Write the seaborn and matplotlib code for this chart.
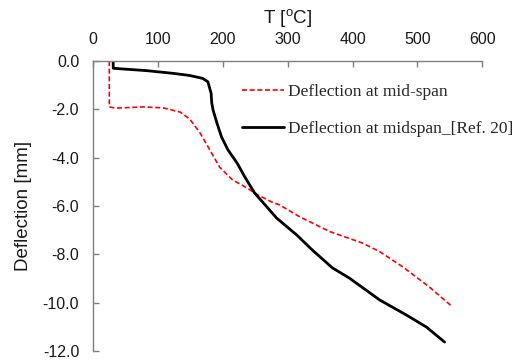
import numpy as np
import pandas as pd
import matplotlib
matplotlib.use("Agg")
import matplotlib.pyplot as plt
import seaborn as sns

sns.set_theme(style="white")
plt.rcParams['font.family'] = ['Liberation Sans', 'DejaVu Sans']
plt.rcParams['mathtext.fontset'] = 'custom'
plt.rcParams['mathtext.rm'] = 'Liberation Sans'

# deflection at mid-span (model)
t_model = [25, 25, 34, 52, 77, 108, 134, 149, 165, 180, 195, 215, 237, 254,
           275, 288, 300, 318, 365, 415, 442, 477, 518, 554]
d_model = [0.0, -1.90, -1.95, -1.93, -1.90, -1.94, -2.11, -2.40, -2.98, -3.68,
           -4.39, -4.92, -5.25, -5.54, -5.83, -5.96, -6.15, -6.44, -7.06, -7.53,
           -7.89, -8.51, -9.34, -10.17]

# deflection at midspan from Ref. 20
t_ref = [31, 31, 46, 83, 123, 149, 169, 177, 182, 183, 185, 191, 198, 208, 222,
         234, 249, 268, 283, 314, 338, 369, 395, 442, 483, 514, 542]
d_ref = [0.0, -0.30, -0.33, -0.40, -0.51, -0.60, -0.72, -0.86, -1.34, -1.74,
         -2.03, -2.57, -3.14, -3.68, -4.22, -4.80, -5.46, -6.04, -6.50, -7.20,
         -7.82, -8.56, -8.98, -9.89, -10.51, -11.01, -11.63]

lbl_model = "Deflection at mid-span"
lbl_ref = "Deflection at midspan_[Ref. 20]"

df_model = pd.DataFrame({"T": t_model, "d": d_model})
df_ref = pd.DataFrame({"T": t_ref, "d": d_ref})

fig = plt.figure(figsize=(5.23, 3.62), dpi=100)
ax = fig.add_axes([0.178, 0.0304, 0.744, 0.8011])

sns.lineplot(data=df_model, x="T", y="d", sort=False, estimator=None, ax=ax,
             color="#ff0000", lw=1.2, linestyle=(0, (3, 1.6)), label=lbl_model)
sns.lineplot(data=df_ref, x="T", y="d", sort=False, estimator=None, ax=ax,
             color="black", lw=2.0, label=lbl_ref)

ax.set_xlim(0, 600)
ax.set_ylim(-12, 0)
ax.set_xticks(np.arange(0, 601, 100))
ax.set_yticks(np.arange(-12, 0.1, 2))
ax.set_yticklabels([f"{v:.1f}" for v in np.arange(-12, 0.1, 2)])

ax.xaxis.tick_top()
ax.xaxis.set_label_position("top")
ax.set_xlabel("T [$^{\\mathrm{o}}$C]", fontsize=13.5, color="#1a1a1a", labelpad=6)
ax.set_ylabel("Deflection [mm]", fontsize=13.5, color="#1a1a1a", labelpad=8)

for s in ["right", "bottom"]:
    ax.spines[s].set_visible(False)
for s in ["left", "top"]:
    ax.spines[s].set_color("#808080")
    ax.spines[s].set_linewidth(1.0)

ax.tick_params(axis="both", direction="in", length=4, width=1.0, color="#808080",
               labelsize=11.5, labelcolor="#1a1a1a", pad=10)
ax.tick_params(axis="x", top=True, bottom=False)
ax.tick_params(axis="y", left=True, right=False)

leg = ax.legend(loc="upper left", bbox_to_anchor=(0.365, 0.946), frameon=False,
                prop={"family": "Liberation Serif", "size": 12.5},
                handlelength=2.4, handletextpad=0.25, labelspacing=1.2,
                borderaxespad=0)

fig.savefig("out.png", dpi=100)
